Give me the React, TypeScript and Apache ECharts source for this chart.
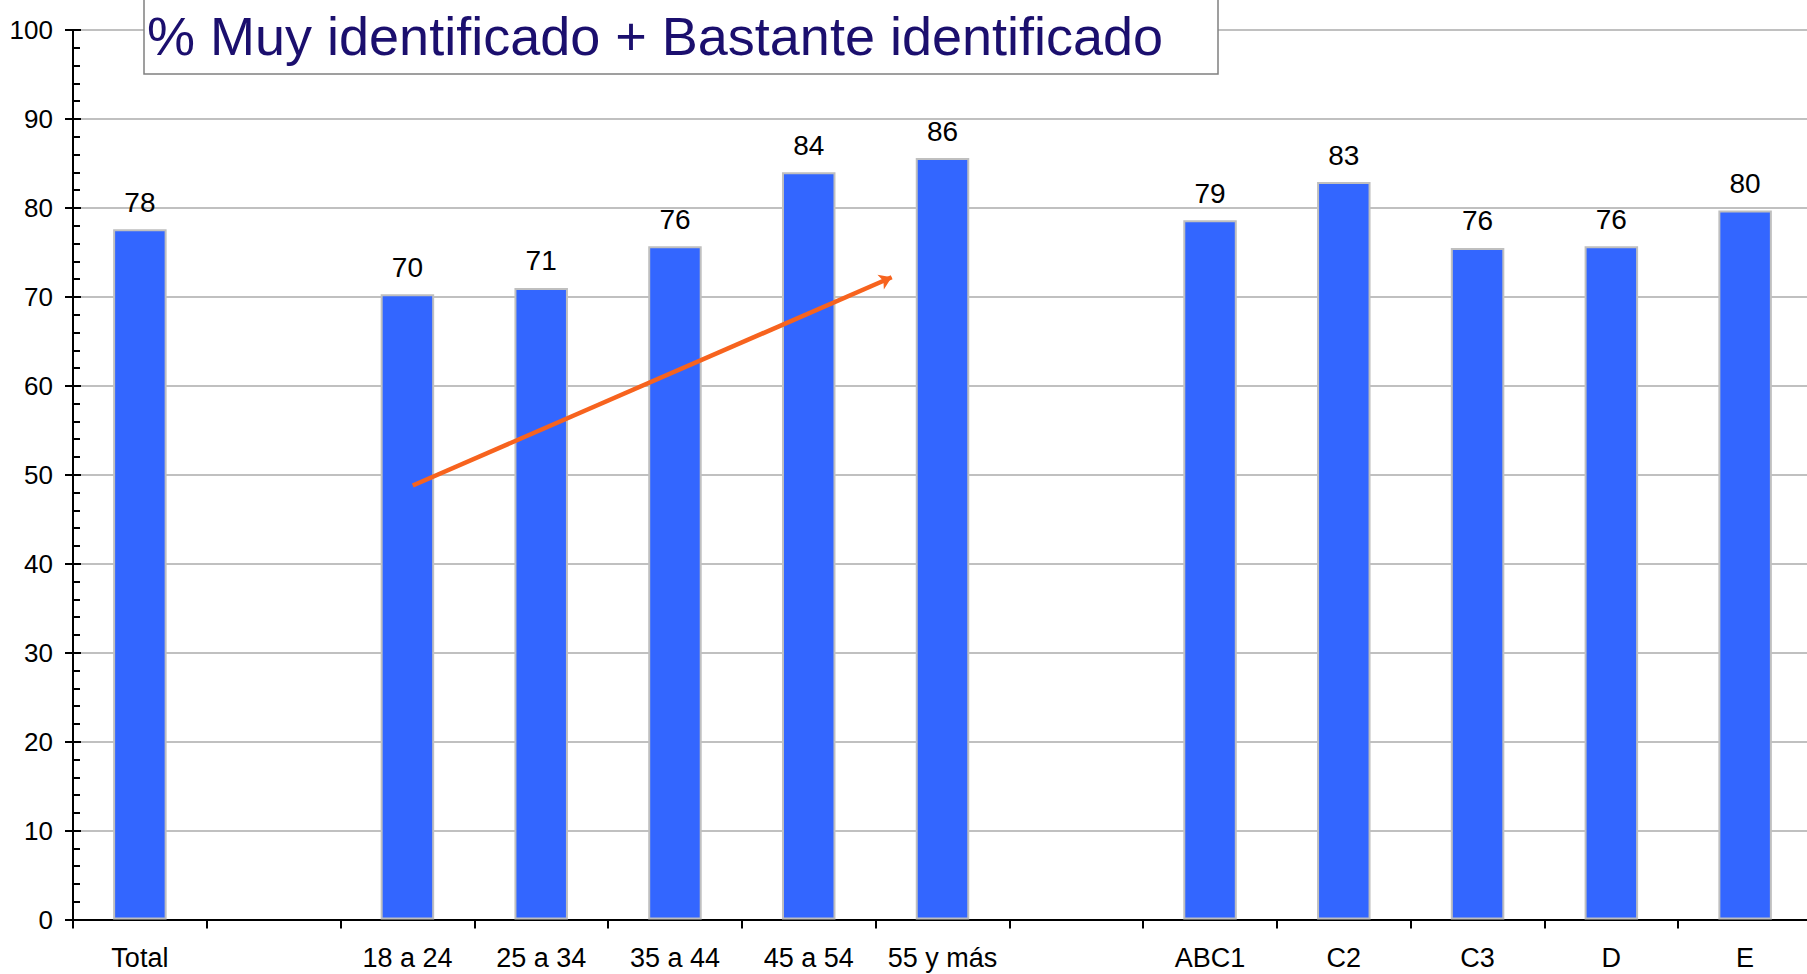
import React, { useEffect, useRef } from "react";
import * as echarts from "echarts";

const titleText = "% Muy identificado + Bastante identificado";
const totalLabel = "Total";
const totalValue = 77.6;
const ageGroups = ["18 a 24", "25 a 34", "35 a 44", "45 a 54", "55 y más"];
const ageValues = [70.3, 71.0, 75.7, 84.0, 85.6];
const segments = ["ABC1", "C2", "C3", "D", "E"];
const segmentValues = [78.6, 82.9, 75.5, 75.7, 79.7];
const yMin = 0;
const yMax = 100;
const yInterval = 10;
// trend arrow annotation, in data space (category slot units, percent)
const trendStart = [2.54, 48.8];
const trendEnd = [6.12, 72.2];

const FONT = "Liberation Sans, Arial, sans-serif";

export default function App() {
  const ref = useRef<HTMLDivElement>(null);
  useEffect(() => {
    if (!ref.current) return;
    const chart = echarts.init(ref.current, undefined, { renderer: "svg" });
    const categories = [totalLabel, "", ...ageGroups, " ", ...segments];
    const values = [totalValue, null, ...ageValues, null, ...segmentValues];
    chart.setOption({
      animation: false,
      backgroundColor: "#ffffff",
      title: {
        text: titleText,
        left: 144,
        top: -4,
        padding: [10, 55, 8, 3],
        backgroundColor: "#ffffff",
        borderColor: "#808080",
        borderWidth: 1.5,
        textStyle: {
          fontFamily: FONT,
          fontSize: 54,
          fontWeight: "normal",
          color: "#1B0F6E",
          lineHeight: 60,
        },
      },
      grid: { left: 73, right: 0, top: 30, bottom: 54.4, containLabel: false },
      xAxis: [
        {
          type: "category",
          data: categories,
          axisLine: { show: true, lineStyle: { color: "#000", width: 2 } },
          axisTick: { show: true, interval: 0, length: 9, lineStyle: { color: "#000", width: 2 } },
          axisLabel: { interval: 0, margin: 25, fontSize: 27, color: "#000", fontFamily: FONT },
          splitLine: { show: false },
        },
        { type: "value", min: 0, max: categories.length, show: false },
      ],
      yAxis: [
        {
          type: "value",
          min: yMin,
          max: yMax,
          interval: yInterval,
          axisLine: { show: true, lineStyle: { color: "#000", width: 2 } },
          axisTick: { show: true, inside: false, length: 8, lineStyle: { color: "#000", width: 2 } },
          axisLabel: { margin: 20, fontSize: 26, color: "#000", fontFamily: FONT },
          splitLine: { show: true, lineStyle: { color: "#C0C0C0", width: 2 } },
        },
        {
          type: "value",
          position: "left",
          min: yMin,
          max: yMax,
          interval: yInterval,
          axisLine: { show: false },
          axisLabel: { show: false },
          axisTick: { show: true, inside: true, length: 8, lineStyle: { color: "#000", width: 2 } },
          minorTick: { show: true, splitNumber: 5, length: 7, lineStyle: { color: "#000", width: 2 } },
          splitLine: { show: false },
        },
      ],
      series: [
        {
          type: "bar",
          data: values,
          barWidth: "40%",
          itemStyle: { color: "#3366FF", borderColor: "#BFBFBF", borderWidth: 2 },
          label: {
            show: true,
            position: "top",
            distance: 13,
            fontSize: 28,
            color: "#000",
            fontFamily: FONT,
            formatter: (p: any) => String(Math.round(p.value)),
          },
          silent: true,
        },
        {
          type: "line",
          xAxisIndex: 1,
          yAxisIndex: 0,
          data: [],
          silent: true,
          markLine: {
            silent: true,
            symbol: ["none", "arrow"],
            symbolSize: 12,
            label: { show: false },
            lineStyle: { color: "#F7631E", width: 4.5, type: "solid" },
            emphasis: { disabled: true },
            data: [[{ coord: trendStart }, { coord: trendEnd }]],
          },
        },
      ],
    });
    return () => chart.dispose();
  }, []);
  return (
    <div
      ref={ref}
      style={{ position: "fixed", left: 0, top: 0, width: 1812, height: 974 }}
    />
  );
}
